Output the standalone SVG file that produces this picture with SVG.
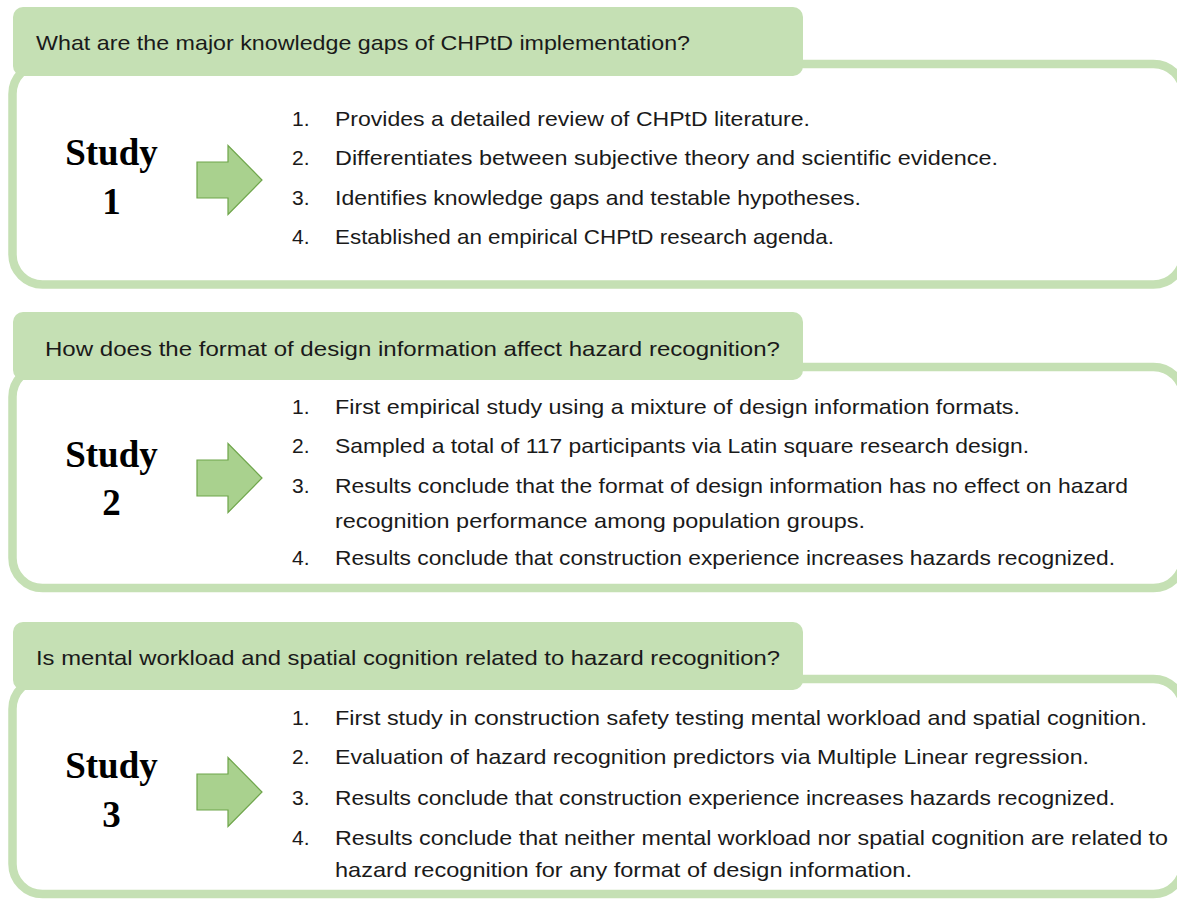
<svg xmlns="http://www.w3.org/2000/svg" width="1177" height="900" viewBox="0 0 1177 900">
  <defs>
    <style>
      .frame { fill: #ffffff; stroke: #c5e0b4; stroke-width: 8.5; }
      .head { fill: #c5e0b4; }
      .q { font-family: "Liberation Sans", Arial, sans-serif; font-size: 21px; fill: #1a1a1a; }
      .item { font-family: "Liberation Sans", Arial, sans-serif; font-size: 21px; fill: #1a1a1a; }
      .study { font-family: "Liberation Serif", "Times New Roman", serif; font-size: 37px; font-weight: bold; fill: #000000; text-anchor: middle; }
      .arrow { fill: #a9d18e; stroke: #6ea54a; stroke-width: 1.2; }
    </style>
    <!-- block arrow pointing right, centred on y = 0 -->
    <path id="blockArrow" class="arrow" d="M197,-18 H228 V-34.5 L262,0 L228,34.5 V18 H197 Z"/>
  </defs>

  <rect width="1177" height="900" fill="#ffffff"/>

  <!-- Study 1 -->
  <g id="study1">
    <rect class="frame" x="12.5" y="64" width="1171" height="220.5" rx="30"/>
    <rect class="head" x="13" y="7" width="790" height="69" rx="10"/>
    <text class="q" x="36" y="50" textLength="654" lengthAdjust="spacingAndGlyphs">What are the major knowledge gaps of CHPtD implementation?</text>
    <text class="study" x="111.5" y="165">Study</text>
    <text class="study" x="111.5" y="214">1</text>
    <use href="#blockArrow" transform="translate(0,180)"/>
    <text class="item" x="292" y="126">1.</text>
    <text class="item" x="335" y="126" textLength="475" lengthAdjust="spacingAndGlyphs">Provides a detailed review of CHPtD literature.</text>
    <text class="item" x="292" y="165">2.</text>
    <text class="item" x="335" y="165" textLength="663" lengthAdjust="spacingAndGlyphs">Differentiates between subjective theory and scientific evidence.</text>
    <text class="item" x="292" y="205">3.</text>
    <text class="item" x="335" y="205" textLength="526" lengthAdjust="spacingAndGlyphs">Identifies knowledge gaps and testable hypotheses.</text>
    <text class="item" x="292" y="244">4.</text>
    <text class="item" x="335" y="244" textLength="499" lengthAdjust="spacingAndGlyphs">Established an empirical CHPtD research agenda.</text>
  </g>

  <!-- Study 2 -->
  <g id="study2">
    <rect class="frame" x="12.5" y="367" width="1171" height="221" rx="30"/>
    <rect class="head" x="13" y="312" width="790" height="68" rx="10"/>
    <text class="q" x="45" y="356" textLength="735" lengthAdjust="spacingAndGlyphs">How does the format of design information affect hazard recognition?</text>
    <text class="study" x="111.5" y="467">Study</text>
    <text class="study" x="111.5" y="515">2</text>
    <use href="#blockArrow" transform="translate(0,478)"/>
    <text class="item" x="292" y="414">1.</text>
    <text class="item" x="335" y="414" textLength="685" lengthAdjust="spacingAndGlyphs">First empirical study using a mixture of design information formats.</text>
    <text class="item" x="292" y="453">2.</text>
    <text class="item" x="335" y="453" textLength="694" lengthAdjust="spacingAndGlyphs">Sampled a total of 117 participants via Latin square research design.</text>
    <text class="item" x="292" y="493">3.</text>
    <text class="item" x="335" y="493" textLength="793" lengthAdjust="spacingAndGlyphs">Results conclude that the format of design information has no effect on hazard</text>
    <text class="item" x="335" y="528" textLength="530" lengthAdjust="spacingAndGlyphs">recognition performance among population groups.</text>
    <text class="item" x="292" y="565">4.</text>
    <text class="item" x="335" y="565" textLength="780" lengthAdjust="spacingAndGlyphs">Results conclude that construction experience increases hazards recognized.</text>
  </g>

  <!-- Study 3 -->
  <g id="study3">
    <rect class="frame" x="12.5" y="679" width="1171" height="215" rx="30"/>
    <rect class="head" x="13" y="622" width="790" height="68" rx="10"/>
    <text class="q" x="36" y="665" textLength="744" lengthAdjust="spacingAndGlyphs">Is mental workload and spatial cognition related to hazard recognition?</text>
    <text class="study" x="111.5" y="778">Study</text>
    <text class="study" x="111.5" y="827">3</text>
    <use href="#blockArrow" transform="translate(0,792)"/>
    <text class="item" x="292" y="725">1.</text>
    <text class="item" x="335" y="725" textLength="812" lengthAdjust="spacingAndGlyphs">First study in construction safety testing mental workload and spatial cognition.</text>
    <text class="item" x="292" y="764">2.</text>
    <text class="item" x="335" y="764" textLength="754" lengthAdjust="spacingAndGlyphs">Evaluation of hazard recognition predictors via Multiple Linear regression.</text>
    <text class="item" x="292" y="805">3.</text>
    <text class="item" x="335" y="805" textLength="780" lengthAdjust="spacingAndGlyphs">Results conclude that construction experience increases hazards recognized.</text>
    <text class="item" x="292" y="845">4.</text>
    <text class="item" x="335" y="845" textLength="833" lengthAdjust="spacingAndGlyphs">Results conclude that neither mental workload nor spatial cognition are related to</text>
    <text class="item" x="335" y="877" textLength="577" lengthAdjust="spacingAndGlyphs">hazard recognition for any format of design information.</text>
  </g>

  <!-- no connectors between the study panels -->
  <g id="connectors"/>
</svg>
